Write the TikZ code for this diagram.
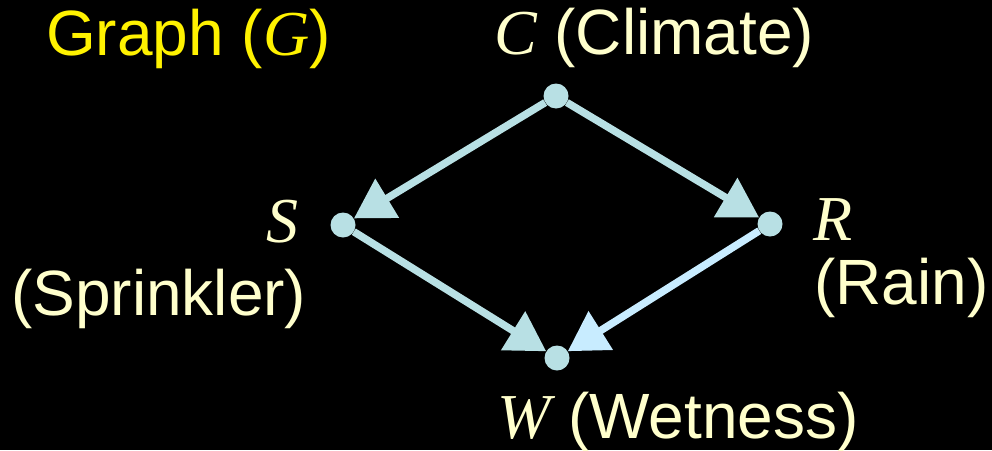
\documentclass[tikz,border=0pt]{standalone}
\usepackage{fontspec}
\setmainfont{Liberation Sans}
\newfontfamily\timesfont{Liberation Serif}
\usetikzlibrary{arrows.meta}
\definecolor{edgeblue}{HTML}{B8E0E4}
\definecolor{paleblue}{HTML}{C8ECFF}
\definecolor{cream}{HTML}{FFFFCC}
\newcommand{\gvar}[1]{{\timesfont\itshape #1}}
\begin{document}
\begin{tikzpicture}[x=1pt,y=-1pt,
  dot/.style={fill=edgeblue,circle,inner sep=0pt,minimum size=25pt},
  edge/.style={draw=edgeblue,line width=7.5pt,-{Triangle[length=39pt,width=44pt]}},
  lbl/.style={text=cream,anchor=base west,inner sep=0pt,font=\fontsize{64}{72}\selectfont}]
  \fill[black] (0,0) rectangle (992,450);
  \useasboundingbox (0,0) rectangle (992,450);
  \node[lbl,text=yellow] (title) at (46,55) {Graph (\gvar{G})};
  \node[dot] (c) at (556,96) {};
  \node[dot] (s) at (343,225) {};
  \node[dot] (r) at (770,224) {};
  \node[dot] (w) at (557,358) {};
  \node[lbl] (clab) at (494,54) {\gvar{C} (Climate)};
  \node[lbl] (slab) at (266,242) {\gvar{S}};
  \node[lbl] (slab2) at (11,315) {(Sprinkler)};
  \node[lbl] (rlab) at (813,240) {\gvar{R}};
  \node[lbl] (rlab2) at (814,304) {(Rain)};
  \node[lbl] (wlab) at (497,438) {\gvar{W} (Wetness)};
  \draw[edge] (c) -- (s);
  \draw[edge] (c) -- (r);
  \draw[edge] (s) -- (w);
  \draw[edge,draw=paleblue] (r) -- (w);
\end{tikzpicture}
\end{document}
